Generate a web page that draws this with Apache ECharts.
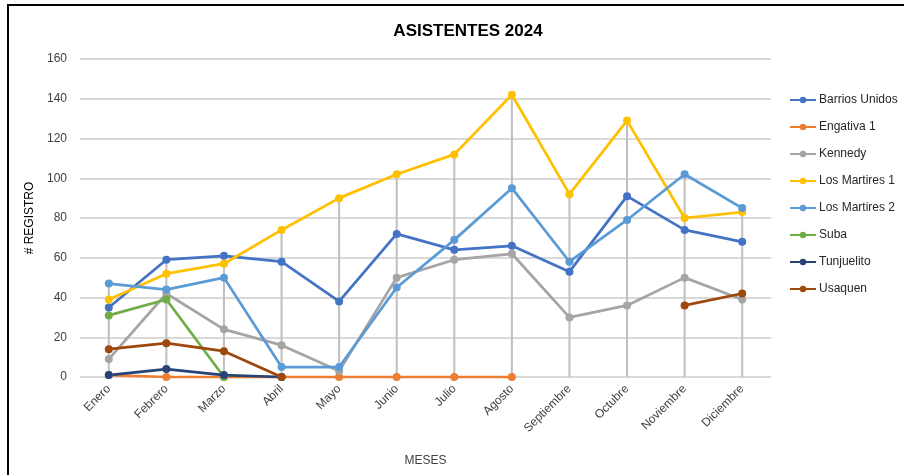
<!DOCTYPE html>
<html>
<head>
<meta charset="utf-8">
<script src="https://cdn.jsdelivr.net/npm/echarts@6/dist/echarts.min.js"></script>
<style>
  html, body { margin: 0; padding: 0; background: #fff; }
  #chart { width: 904px; height: 475px; }
</style>
</head>
<body>
<div id="chart"></div>
<script>
// meses
var months = ["Enero", "Febrero", "Marzo", "Abril", "Mayo", "Junio", "Julio",
  "Agosto", "Septiembre", "Octubre", "Noviembre", "Diciembre"];

// registros por sede
var barriosUnidos = [35, 59, 61, 58, 38, 72, 64, 66, 53, 91, 74, 68];
var engativa1 = [1, 0, 0, 0, 0, 0, 0, 0, null, null, null, null];
var kennedy = [9, 42, 24, 16, 3, 50, 59, 62, 30, 36, 50, 39];
var losMartires1 = [39, 52, 57, 74, 90, 102, 112, 142, 92, 129, 80, 83];
var losMartires2 = [47, 44, 50, 5, 5, 45, 69, 95, 58, 79, 102, 85];
var suba = [31, 39, 0, null, null, null, null, null, null, null, null, null];
var tunjuelito = [1, 4, 1, 0, null, null, null, null, null, null, null, null];
var usaquen = [14, 17, 13, 0, null, null, null, null, null, null, 36, 42];

var yTicks = [0, 20, 40, 60, 80, 100, 120, 140, 160];

var sedes = [
  { name: "Barrios Unidos", data: barriosUnidos, color: "#4472C4" },
  { name: "Engativa 1", data: engativa1, color: "#ED7D31" },
  { name: "Kennedy", data: kennedy, color: "#A5A5A5" },
  { name: "Los Martires 1", data: losMartires1, color: "#FFC000" },
  { name: "Los Martires 2", data: losMartires2, color: "#5B9BD5" },
  { name: "Suba", data: suba, color: "#70AD47" },
  { name: "Tunjuelito", data: tunjuelito, color: "#264478" },
  { name: "Usaquen", data: usaquen, color: "#9E480E" }
];

// lineas de caida: hasta el valor maximo de cada mes
var dropLines = months.map(function (m, i) {
  var max = 0;
  sedes.forEach(function (s) {
    if (s.data[i] != null && s.data[i] > max) max = s.data[i];
  });
  return max;
});

var series = [{
  name: "drop",
  type: "bar",
  data: dropLines,
  barWidth: 2,
  itemStyle: { color: "#BFBFBF" },
  silent: true,
  z: 1
}];
sedes.forEach(function (s) {
  series.push({
    name: s.name,
    type: "line",
    data: s.data,
    symbol: "circle",
    symbolSize: 8,
    connectNulls: false,
    lineStyle: { width: 2.75, color: s.color },
    itemStyle: { color: s.color },
    z: 3
  });
});

var font = "Liberation Sans, Arial, sans-serif";
var myChart = echarts.init(document.getElementById("chart"));
myChart.setOption({
  animation: false,
  backgroundColor: "#fff",
  textStyle: { fontFamily: font },
  graphic: [{
    type: "rect",
    shape: { x: 8, y: 5, width: 1000, height: 1000 },
    style: { fill: "none", stroke: "#000", lineWidth: 2 },
    silent: true
  }],
  title: {
    text: "ASISTENTES 2024",
    left: 463,
    textAlign: "center",
    top: 18,
    textStyle: { fontSize: 17, fontWeight: "bold", color: "#000", fontFamily: font }
  },
  legend: {
    orient: "vertical",
    left: 784,
    top: 89,
    itemGap: 15,
    itemWidth: 26,
    itemHeight: 8,
    data: sedes.map(function (s) { return s.name; }),
    textStyle: { fontSize: 12, color: "#262626", fontFamily: font, padding: [0, 0, 0, -2] }
  },
  grid: { left: 80, right: 133, top: 59, bottom: 98 },
  xAxis: {
    type: "category",
    data: months,
    boundaryGap: true,
    name: "MESES",
    nameLocation: "middle",
    nameGap: 78,
    nameTextStyle: { fontSize: 12, color: "#404040" },
    axisLine: { show: false },
    axisTick: { show: false },
    axisLabel: { rotate: 45, fontSize: 12, color: "#404040", margin: 10 }
  },
  yAxis: {
    type: "value",
    min: yTicks[0],
    max: yTicks[yTicks.length - 1],
    interval: 20,
    name: "# REGISTRO",
    nameLocation: "middle",
    nameGap: 36,
    nameTextStyle: { fontSize: 12, color: "#000" },
    axisLine: { show: false },
    axisTick: { show: false },
    axisLabel: { fontSize: 12, color: "#404040", margin: 13 },
    splitLine: { lineStyle: { color: "#D9D9D9", width: 2 } }
  },
  series: series
});
</script>
</body>
</html>
